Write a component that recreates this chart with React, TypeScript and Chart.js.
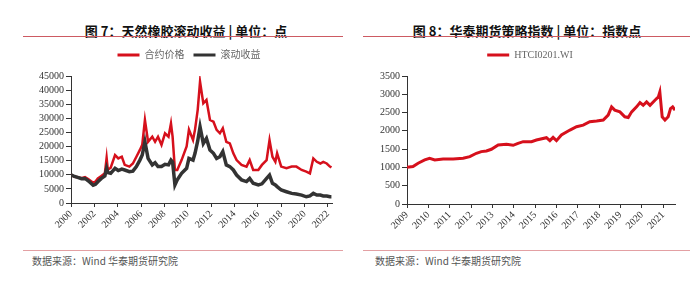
import React, { useEffect, useRef } from "react";
import { Chart, registerables } from "chart.js";

Chart.register(...registerables);

// ---------- Figure 7: natural rubber ----------
const leftYears = [
  2000.0, 2000.3, 2000.63, 2000.9, 2001.2, 2001.5, 2001.9, 2002.1, 2002.3, 2002.6,
  2002.9, 2003.05, 2003.15, 2003.4, 2003.77, 2004.05, 2004.35, 2004.6, 2005.0, 2005.3,
  2005.6, 2005.9, 2006.1, 2006.33, 2006.6, 2006.96, 2007.2, 2007.45, 2007.75, 2008.05,
  2008.35, 2008.56, 2008.7, 2008.9, 2009.1, 2009.47, 2009.9, 2010.1, 2010.45, 2010.62,
  2010.85, 2011.05, 2011.33, 2011.6, 2011.9, 2012.2, 2012.47, 2012.75, 2013.0, 2013.3,
  2013.6, 2013.9, 2014.18, 2014.6, 2015.03, 2015.3, 2015.6, 2016.04, 2016.35, 2016.75,
  2017.0, 2017.25, 2017.5, 2017.65, 2018.0, 2018.45, 2018.9, 2019.3, 2019.75, 2020.15,
  2020.46, 2020.75, 2021.05, 2021.35, 2021.6, 2021.9, 2022.17, 2022.3,
];
const contractPrice = [
  10000, 9300, 9100, 8800, 9200, 8400, 7200, 7600, 8700, 9600,
  10500, 16000, 11800, 12500, 17000, 15800, 16400, 13500, 12900, 14000,
  16400, 18800, 20600, 29400, 21700, 23500, 21700, 23500, 20600, 24700,
  23500, 28200, 23500, 11700, 11700, 15200, 20000, 26000, 22300, 26000,
  33000, 43000, 35300, 36500, 29400, 28800, 25900, 24700, 26500, 21700,
  21100, 17600, 15200, 13500, 12900, 15200, 11700, 11700, 13500, 15200,
  22300, 16400, 14600, 17600, 12900, 12300, 12900, 12900, 11700, 11100,
  10500, 15800, 14600, 14000, 14600, 14000, 12900, 12600,
];
const rollingReturn = [
  10000, 9400, 9000, 8600, 8700, 7800, 6300, 6600, 7500, 8700,
  9600, 12300, 10800, 10500, 12300, 11500, 12000, 11700, 11100, 11300,
  12900, 15200, 17000, 21700, 15800, 13500, 14300, 12900, 12900, 13700,
  13500, 15200, 14500, 6400, 8200, 10500, 12300, 15800, 15200, 17600,
  22000, 27000, 21100, 22900, 18800, 17600, 15800, 16400, 18200, 13500,
  12900, 11700, 9900, 8200, 7600, 8700, 7000, 6400, 6800, 8700,
  9900, 7000, 6400, 5800, 4600, 4000, 3400, 3200, 2800, 2200,
  2500, 3400, 2800, 2800, 2500, 2500, 2200, 2200,
];
const leftTickYears = [2000, 2002, 2004, 2006, 2008, 2010, 2012, 2014, 2016, 2018, 2020, 2022];
const leftYTicks = [0, 5000, 10000, 15000, 20000, 25000, 30000, 35000, 40000, 45000];

// ---------- Figure 8: HTCI0201.WI ----------
const rightYears = [
  2009.0, 2009.28, 2009.52, 2009.83, 2010.06, 2010.3, 2010.69, 2011.16, 2011.63, 2011.94,
  2012.25, 2012.48, 2012.72, 2012.95, 2013.27, 2013.66, 2013.97, 2014.2, 2014.44, 2014.83,
  2015.06, 2015.53, 2015.69, 2015.84, 2016.0, 2016.23, 2016.63, 2016.94, 2017.25, 2017.56,
  2017.88, 2018.19, 2018.42, 2018.58, 2018.73, 2018.97, 2019.2, 2019.36, 2019.52, 2019.75,
  2019.91, 2020.06, 2020.22, 2020.38, 2020.61, 2020.77, 2020.84, 2020.95, 2021.08, 2021.23,
  2021.34, 2021.44, 2021.55,
];
const htciValues = [
  1006, 1024, 1115, 1206, 1250, 1206, 1233, 1233, 1250, 1296,
  1387, 1432, 1450, 1496, 1614, 1632, 1605, 1659, 1704, 1704,
  1750, 1813, 1732, 1822, 1732, 1886, 2022, 2112, 2158, 2249,
  2267, 2294, 2430, 2656, 2566, 2520, 2385, 2366, 2520, 2656,
  2774, 2701, 2792, 2700, 2838, 2928, 3064, 2385, 2294, 2385,
  2611, 2656, 2566,
];
const rightTickYears = [2009, 2010, 2011, 2012, 2013, 2014, 2015, 2016, 2017, 2018, 2019, 2020, 2021];
const rightYTicks = [0, 500, 1000, 1500, 2000, 2500, 3000, 3500];

const RED = "#d6101c";
const DARK = "#333333";
const AXIS = "#333333";
const SERIF = "'Liberation Serif', 'Noto Sans CJK SC', serif";

type Cfg = {
  datasets: any[];
  xMin: number;
  xMax: number;
  xTicks: number[];
  yTicks: number[];
  yWidth: number;
  padRight: number;
  legendCenter: number;
};

function makeChart(canvas: HTMLCanvasElement, c: Cfg) {
  const legendTweak = {
    id: "legendTweak",
    beforeInit(chart: any) {
      const lg = chart.legend;
      if (!lg) return;
      const fit = lg.fit;
      lg.fit = function () {
        fit.call(this);
        this.height += 6;
      };
    },
    afterLayout(chart: any) {
      const lg = chart.legend;
      if (!lg) return;
      const dx = c.legendCenter - (lg.left + lg.right) / 2;
      lg.left += dx;
      lg.right += dx;
    },
  };

  return new Chart(canvas, {
    type: "line",
    data: { datasets: c.datasets },
    plugins: [legendTweak],
    options: {
      animation: false,
      responsive: false,
      events: [],
      layout: { padding: { left: 0, right: c.padRight, top: 0, bottom: 0 } },
      plugins: {
        tooltip: { enabled: false },
        legend: {
          display: true,
          position: "top",
          align: "center",
          labels: {
            boxWidth: 22,
            boxHeight: 3,
            padding: 9,
            color: "#666",
            font: { size: 10, family: SERIF },
            sort: (a: any, b: any) => a.datasetIndex - b.datasetIndex,
            generateLabels: (chart: any) =>
              (Chart.defaults.plugins.legend.labels as any)
                .generateLabels(chart)
                .map((l: any) => ({ ...l, lineWidth: 0, fillStyle: l.strokeStyle })),
          },
        },
      },
      scales: {
        x: {
          type: "linear",
          min: c.xMin,
          max: c.xMax,
          afterBuildTicks: (s: any) => {
            s.ticks = c.xTicks.map((v) => ({ value: v }));
          },
          afterFit: (s: any) => {
            s.height = 40;
          },
          ticks: {
            autoSkip: false,
            maxRotation: 45,
            minRotation: 45,
            padding: 1,
            color: "#333",
            font: { size: 10, family: SERIF },
            callback: (v: any) => String(v),
          },
          grid: { drawOnChartArea: false, drawTicks: true, tickLength: 4, color: AXIS },
          border: { display: true, color: AXIS, width: 1 },
        },
        y: {
          min: c.yTicks[0],
          max: c.yTicks[c.yTicks.length - 1],
          afterBuildTicks: (s: any) => {
            s.ticks = c.yTicks.map((v) => ({ value: v }));
          },
          afterFit: (s: any) => {
            s.width = c.yWidth;
          },
          ticks: {
            autoSkip: false,
            padding: 2,
            color: "#333",
            font: { size: 10, family: SERIF },
            callback: (v: any) => String(v),
          },
          grid: { drawOnChartArea: false, drawTicks: true, tickLength: 5, color: AXIS },
          border: { display: true, color: AXIS, width: 1 },
        },
      },
    } as any,
  });
}

const titleStyle = (cx: number): React.CSSProperties => ({
  position: "absolute",
  left: cx,
  top: 23,
  transform: "translateX(-50%)",
  whiteSpace: "nowrap",
  fontFamily: "'Noto Sans CJK SC', sans-serif",
  fontWeight: 700,
  fontSize: 13,
  lineHeight: "16px",
  color: "#111",
});

const rule = (left: number, width: number, top: number, color: string): React.CSSProperties => ({
  position: "absolute",
  left,
  width,
  top,
  height: 1,
  background: color,
});

const sourceStyle = (left: number): React.CSSProperties => ({
  position: "absolute",
  left,
  top: 255,
  whiteSpace: "nowrap",
  fontFamily: "'Noto Sans CJK SC', sans-serif",
  fontSize: 10,
  lineHeight: "12px",
  color: "#555",
});

export default function App() {
  const leftRef = useRef<HTMLCanvasElement>(null);
  const rightRef = useRef<HTMLCanvasElement>(null);

  useEffect(() => {
    const left = makeChart(leftRef.current!, {
      datasets: [
        {
          label: "合约价格",
          data: leftYears.map((x, i) => ({ x, y: contractPrice[i] })),
          borderColor: RED,
          backgroundColor: RED,
          borderWidth: 2.5,
          pointRadius: 0,
          tension: 0,
          order: 1,
        },
        {
          label: "滚动收益",
          data: leftYears.map((x, i) => ({ x, y: rollingReturn[i] })),
          borderColor: DARK,
          backgroundColor: DARK,
          borderWidth: 3.5,
          pointRadius: 0,
          tension: 0,
          order: 0,
        },
      ],
      xMin: 2000,
      xMax: 2022.35,
      xTicks: leftTickYears,
      yTicks: leftYTicks,
      yWidth: 71,
      padRight: 46,
      legendCenter: 189,
    });
    const right = makeChart(rightRef.current!, {
      datasets: [
        {
          label: "HTCI0201.WI",
          data: rightYears.map((x, i) => ({ x, y: htciValues[i] })),
          borderColor: RED,
          backgroundColor: RED,
          borderWidth: 3,
          pointRadius: 0,
          tension: 0,
        },
      ],
      xMin: 2009,
      xMax: 2021.55,
      xTicks: rightTickYears,
      yTicks: rightYTicks,
      yWidth: 47,
      padRight: 25,
      legendCenter: 170,
    });
    return () => {
      left.destroy();
      right.destroy();
    };
  }, []);

  return (
    <div
      style={{
        position: "absolute",
        left: 0,
        top: 0,
        width: 700,
        height: 282,
        background: "#fff",
        overflow: "hidden",
      }}
    >
      <div style={titleStyle(186)}>图 7：天然橡胶滚动收益 | 单位：点</div>
      <div style={titleStyle(527)}>图 8：华泰期货策略指数 | 单位：指数点</div>
      <div style={rule(23, 320, 36, "#cd5a62")} />
      <div style={rule(363, 327, 36, "#cd5a62")} />
      <canvas
        ref={leftRef}
        width={378}
        height={202}
        style={{ position: "absolute", left: 0, top: 41 }}
      />
      <canvas
        ref={rightRef}
        width={340}
        height={203}
        style={{ position: "absolute", left: 360, top: 41 }}
      />
      <div style={rule(23, 320, 250, "#e3a0a3")} />
      <div style={rule(363, 327, 250, "#e3a0a3")} />
      <div style={sourceStyle(32)}>数据来源：Wind 华泰期货研究院</div>
      <div style={sourceStyle(375)}>数据来源：Wind 华泰期货研究院</div>
    </div>
  );
}
